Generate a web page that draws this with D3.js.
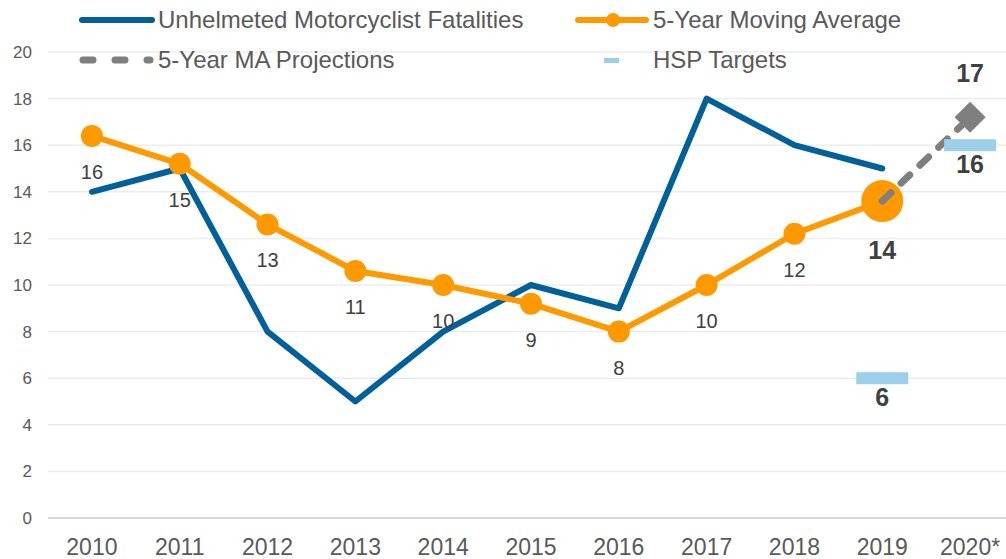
<!DOCTYPE html>
<html><head><meta charset="utf-8">
<script src="https://cdn.jsdelivr.net/npm/d3@7"></script>
<style>body{margin:0;background:#fff;}svg{display:block;font-family:"Liberation Sans",Arial,sans-serif;}</style>
</head><body><svg id="c" width="1006" height="559"></svg>
<script>
const categories = ["2010","2011","2012","2013","2014","2015","2016","2017","2018","2019","2020*"];
const fatalities = [14,15,8,5,8,10,9,18,16,15];
const movingAvg = [16.4,15.2,12.6,10.6,10.0,9.2,8.0,10.0,12.2,13.6];
const maLabels = ["16","15","13","11","10","9","8","10","12","14"];
const projection = [{cat:"2019",v:13.6},{cat:"2020*",v:17.2}];
const projLabel = "17";
const targets = [{cat:"2019",v:6,label:"6"},{cat:"2020*",v:16,label:"16"}];
const yTicks = [0,2,4,6,8,10,12,14,16,18,20];

const svg = d3.select("#c");
const x = d3.scaleBand().domain(categories).range([48,1014]);
const y = d3.scaleLinear().domain([0,20]).range([518,52]);
const cx = c => x(c)+x.bandwidth()/2;

const BLUE="#00609A", ORANGE="#FF9900", GRAY="#7F7F7F", LBLUE="#9DCFEA";

// gridlines
svg.append("g").selectAll("line").data(yTicks).join("line")
  .attr("x1",48).attr("x2",1006).attr("y1",d=>y(d)).attr("y2",d=>y(d))
  .attr("stroke",d=>d===0?"#d9d9d9":"#ececec").attr("stroke-width",d=>d===0?2:1.5);
// y labels
svg.append("g").selectAll("text").data(yTicks).join("text")
  .attr("x",32).attr("y",d=>y(d)).attr("dy","0.35em").attr("text-anchor","end")
  .attr("fill","#595959").attr("font-size",17).text(d=>d);
// x labels
svg.append("g").selectAll("text").data(categories).join("text")
  .attr("x",d=>cx(d)).attr("y",555).attr("text-anchor","middle")
  .attr("fill","#595959").attr("font-size",23).text(d=>d);

// fatalities line
const line = d3.line().x(d=>cx(d.c)).y(d=>y(d.v));
svg.append("path").datum(fatalities.map((v,i)=>({c:categories[i],v})))
  .attr("d",line).attr("fill","none").attr("stroke",BLUE).attr("stroke-width",6)
  .attr("stroke-linejoin","round").attr("stroke-linecap","round");

// MA line
const maData = movingAvg.map((v,i)=>({c:categories[i],v,l:maLabels[i]}));
svg.append("path").datum(maData).attr("d",line).attr("fill","none")
  .attr("stroke",ORANGE).attr("stroke-width",6).attr("stroke-linejoin","round");
svg.append("g").selectAll("circle").data(maData).join("circle")
  .attr("cx",d=>cx(d.c)).attr("cy",d=>y(d.v)).attr("r",(d,i)=>i===maData.length-1?21:11)
  .attr("fill",ORANGE);

// projection
svg.append("path").datum(projection.map(d=>({c:d.cat,v:d.v})))
  .attr("d",line).attr("fill","none").attr("stroke",GRAY).attr("stroke-width",7)
  .attr("stroke-linecap","round").attr("stroke-dasharray","12,14");
const pEnd = projection[projection.length-1];
svg.append("rect").attr("x",-11).attr("y",-11).attr("width",22).attr("height",22)
  .attr("fill",GRAY)
  .attr("transform",`translate(${cx(pEnd.cat)},${y(pEnd.v)}) rotate(45)`);
svg.append("text").attr("x",cx(pEnd.cat)).attr("y",y(pEnd.v)-35)
  .attr("text-anchor","middle").attr("font-size",25).attr("font-weight","bold")
  .attr("fill","#404040").text(projLabel);

// targets
svg.append("g").selectAll("rect").data(targets).join("rect")
  .attr("x",d=>cx(d.cat)-26).attr("y",d=>y(d.v)-6).attr("width",52).attr("height",12)
  .attr("fill",LBLUE);
svg.append("g").selectAll("text").data(targets).join("text")
  .attr("x",d=>cx(d.cat)).attr("y",d=>y(d.v)+28).attr("text-anchor","middle")
  .attr("font-size",25).attr("font-weight","bold").attr("fill","#404040").text(d=>d.label);

// MA labels
svg.append("g").selectAll("text").data(maData).join("text")
  .attr("x",d=>cx(d.c)).attr("y",(d,i)=>y(d.v)+(i===maData.length-1?58:43))
  .attr("text-anchor","middle")
  .attr("font-size",(d,i)=>i===maData.length-1?25:20)
  .attr("font-weight",(d,i)=>i===maData.length-1?"bold":"normal")
  .attr("fill","#404040").text(d=>d.l);

// legend
const lg = svg.append("g");
lg.append("line").attr("x1",82).attr("x2",152).attr("y1",20).attr("y2",20)
  .attr("stroke",BLUE).attr("stroke-width",6).attr("stroke-linecap","round");
lg.append("text").attr("x",158).attr("y",28).attr("font-size",24).attr("fill","#595959")
  .text("Unhelmeted Motorcyclist Fatalities");
lg.append("line").attr("x1",578).attr("x2",646).attr("y1",20).attr("y2",20)
  .attr("stroke",ORANGE).attr("stroke-width",6).attr("stroke-linecap","round");
lg.append("circle").attr("cx",613).attr("cy",20).attr("r",7).attr("fill",ORANGE);
lg.append("text").attr("x",653).attr("y",28).attr("font-size",24).attr("fill","#595959")
  .text("5-Year Moving Average");
lg.append("line").attr("x1",83).attr("x2",150).attr("y1",60).attr("y2",60)
  .attr("stroke",GRAY).attr("stroke-width",7).attr("stroke-linecap","round")
  .attr("stroke-dasharray","10,22");
lg.append("text").attr("x",158).attr("y",68).attr("font-size",24).attr("fill","#595959")
  .text("5-Year MA Projections");
lg.append("rect").attr("x",604).attr("y",58).attr("width",15).attr("height",5).attr("fill",LBLUE);
lg.append("text").attr("x",653).attr("y",68).attr("font-size",24).attr("fill","#595959")
  .text("HSP Targets");
</script></body></html>
